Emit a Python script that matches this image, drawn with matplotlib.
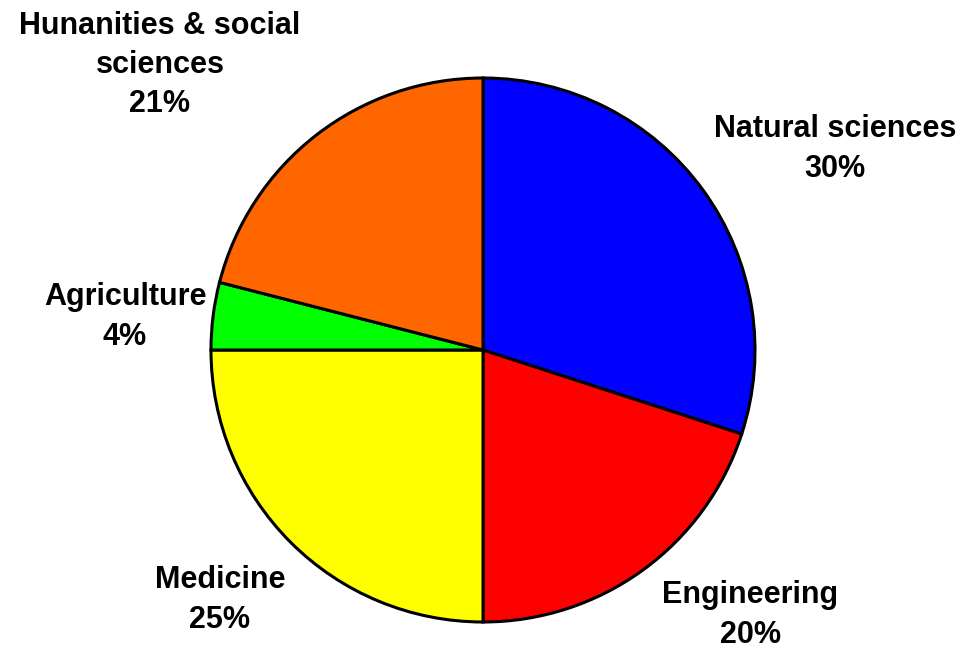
import matplotlib
matplotlib.use("Agg")
from matplotlib import pyplot as plt

# data
fields = ["Natural sciences", "Engineering", "Medicine", "Agriculture",
          "Hunanities & social\nsciences"]
shares = [30, 20, 25, 4, 21]
colors = ["#0000FF", "#FF0000", "#FFFF00", "#00FF00", "#FF6600"]

# label centres in pixels of the 967x651 image
label_px = [(835, 149), (750, 615), (220, 600), (125, 317), (160, 65)]

W, H = 967, 651
cx, cy, R = 483, 350, 272
half = 300

fig = plt.figure(figsize=(W / 100, H / 100), dpi=100)
ax = fig.add_axes([(cx - half) / W, (H - cy - half) / H, 2 * half / W, 2 * half / H])
ax.axis("off")

ax.pie(shares, colors=colors, startangle=90, counterclock=False, radius=1,
       wedgeprops=dict(edgecolor="black", linewidth=2.2))
ax.set_xlim(-half / R, half / R)
ax.set_ylim(-half / R, half / R)
ax.set_aspect("equal")

for name, val, (px, py) in zip(fields, shares, label_px):
    ax.text((px - cx) / R, (cy - py) / R, f"{name}\n{val}%",
            ha="center", va="center", fontsize=22, fontweight="bold",
            family="Liberation Sans", linespacing=1.4)

fig.savefig("out.png", dpi=100)
